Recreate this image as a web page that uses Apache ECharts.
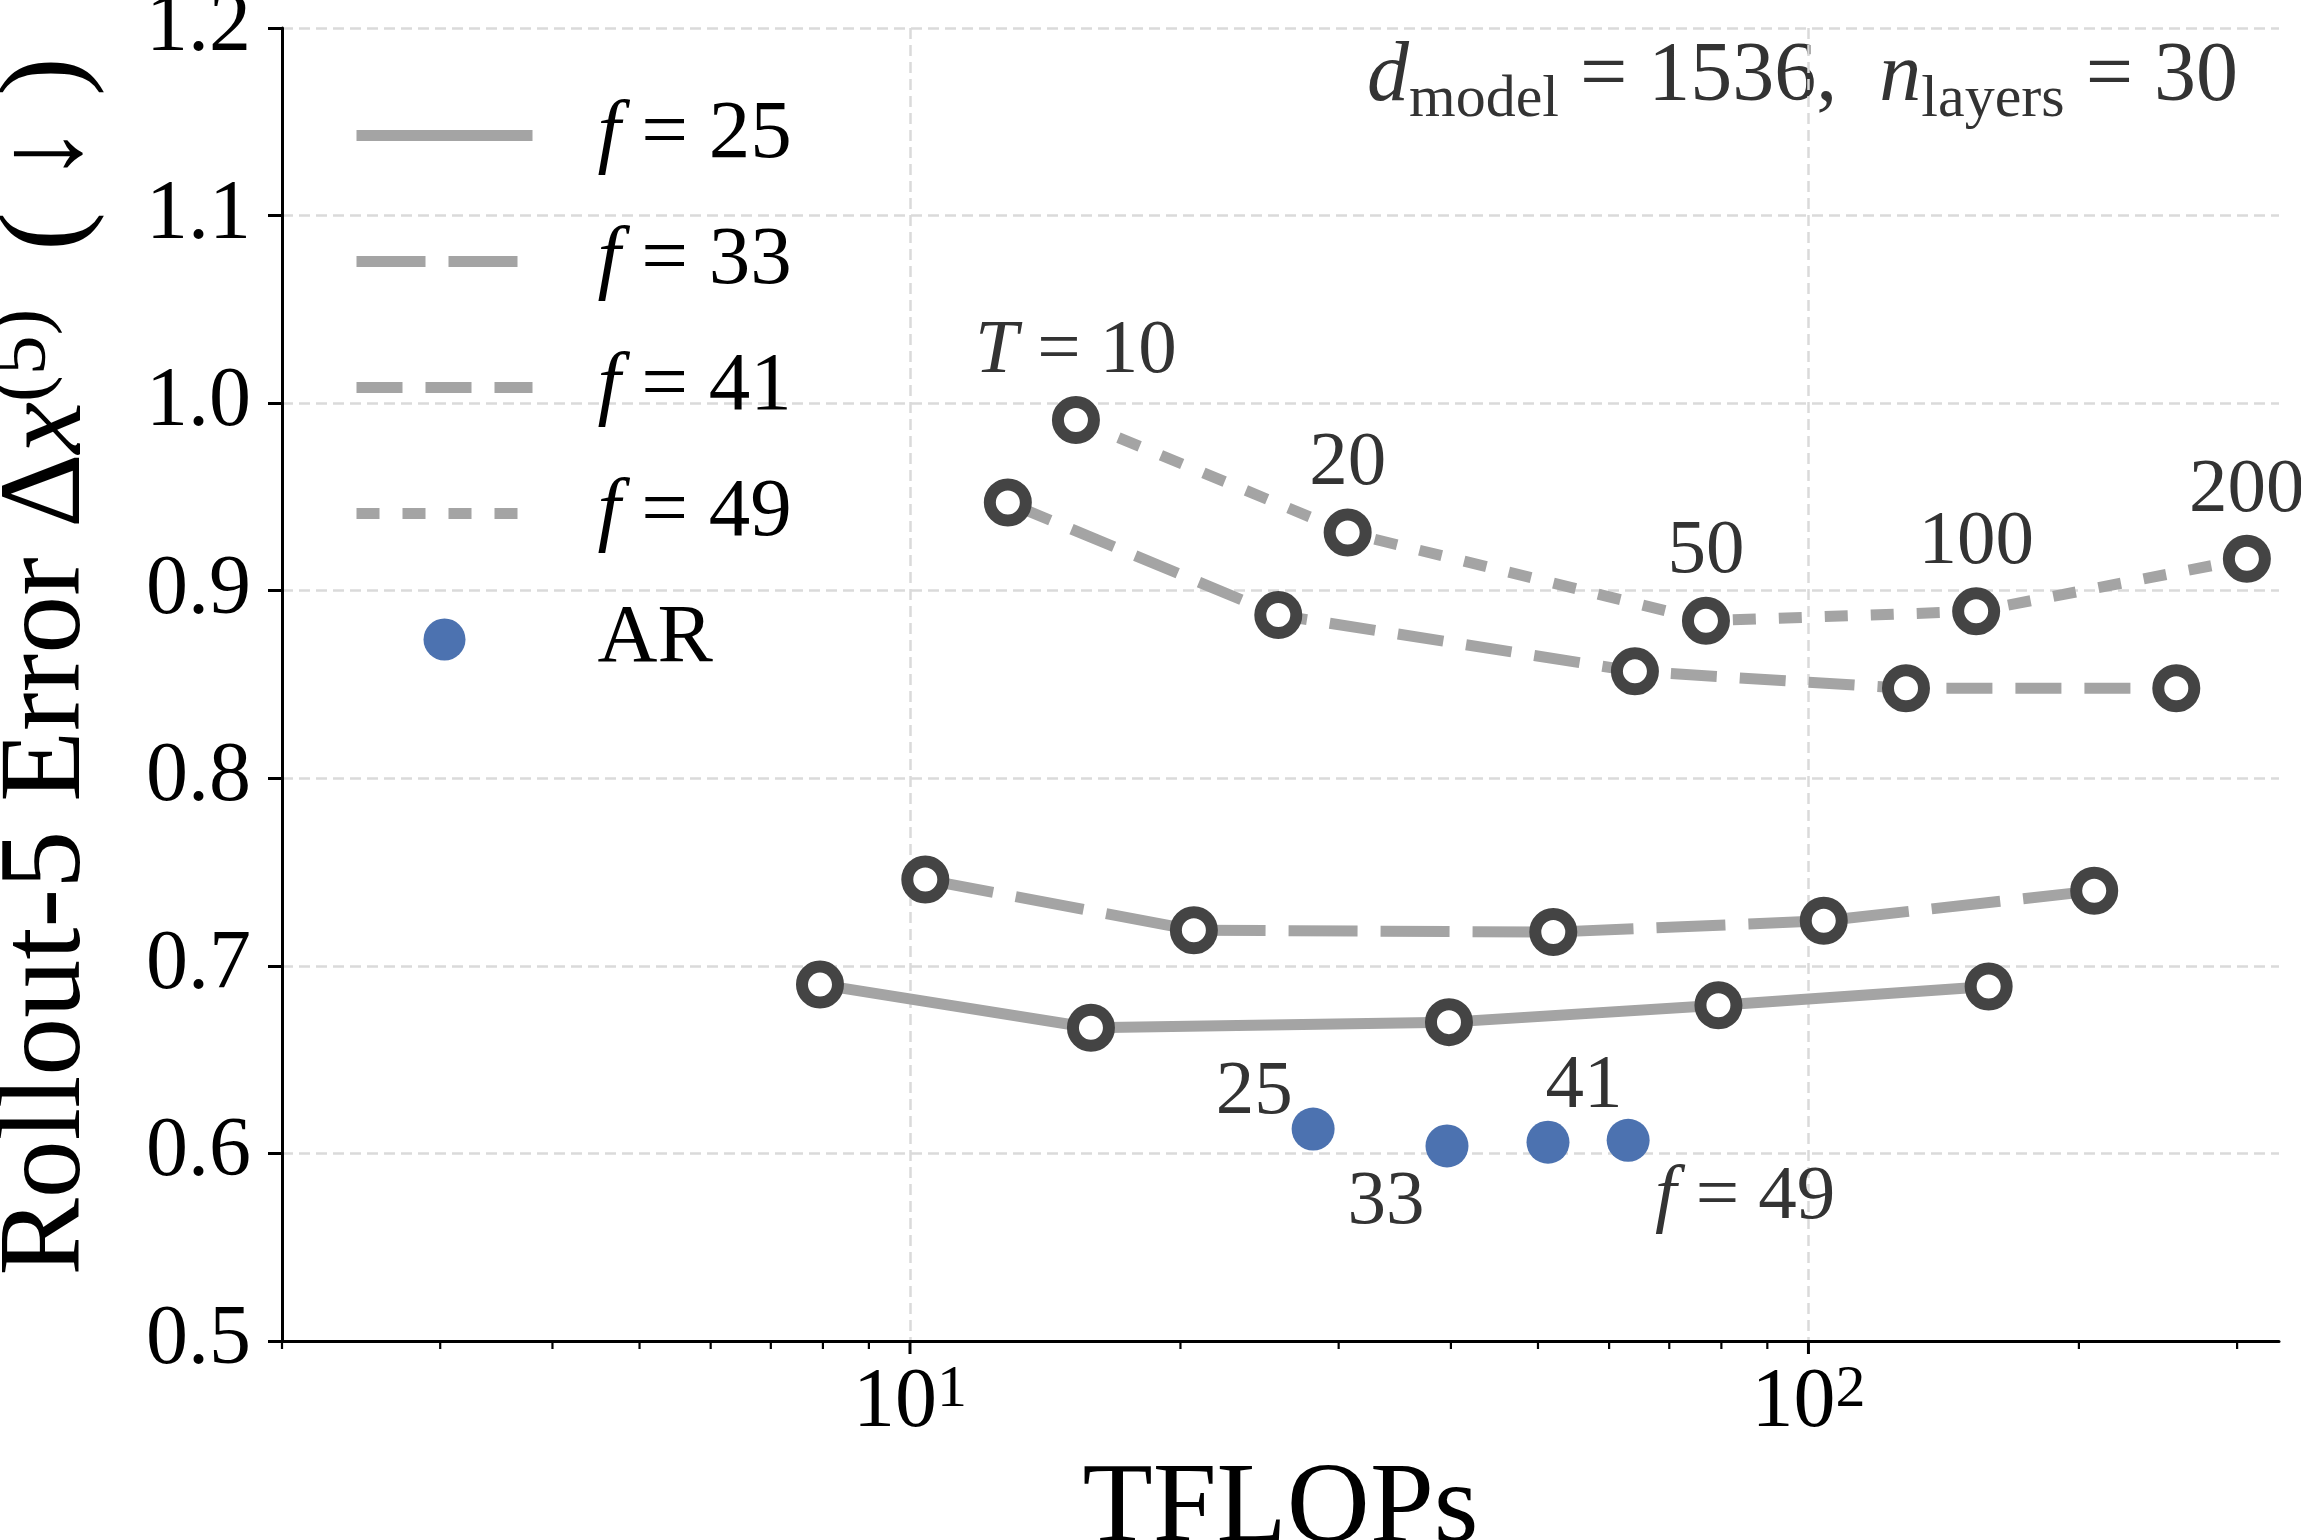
<!DOCTYPE html>
<html>
<head>
<meta charset="utf-8">
<script src="https://cdn.jsdelivr.net/npm/echarts@6/dist/echarts.min.js"></script>
<style>
  html, body { margin: 0; padding: 0; background: #fff; }
  #chart { width: 2301px; height: 1540px; }
</style>
</head>
<body>
<div id="chart"></div>
<script>
// compute (TFLOPs) vs rollout-5 error, one line per f, points are T = 10, 20, 50, 100, 200
const f25Flops = [7.94, 15.9, 39.8, 79.4, 158.7];
const f25Err = [0.690, 0.667, 0.670, 0.679, 0.689];
const f33Flops = [10.4, 20.7, 52.0, 104, 208];
const f33Err = [0.746, 0.719, 0.718, 0.724, 0.740];
const f41Flops = [12.85, 25.7, 64.1, 128.4, 256.7];
const f41Err = [0.947, 0.887, 0.857, 0.848, 0.848];
const f49Flops = [15.3, 30.7, 76.9, 153.7, 307.6];
const f49Err = [0.991, 0.931, 0.884, 0.889, 0.917];
const arFlops = [28.1, 39.6, 51.3, 63.0];
const arErr = [0.613, 0.604, 0.606, 0.607];

const tLabels = ['T = 10', '20', '50', '100', '200'];
const arLabels = ['25', '33', '41', 'f = 49'];
const seriesNames = ['f = 25', 'f = 33', 'f = 41', 'f = 49', 'AR'];
const majorTicks = [10, 100];
const minorTicks = [2, 3, 4, 5, 6, 7, 8, 9, 20, 30, 40, 50, 60, 70, 80, 90, 200, 300];

// label placement for the AR points (px offsets from the dot centre)
const arLabelOffsets = [[-59, -36], [-61, 57], [36, -55], [117, 57]];

const SERIF = '"Liberation Serif", "DejaVu Serif", serif';
const GREY_LINE = '#a4a4a4';
const RING = '#444444';
const TXT = '#333333';

function richStyles(size, color) {
    return {
        n: { fontFamily: SERIF, fontSize: size, color: color },
        i: { fontFamily: SERIF, fontSize: size, color: color, fontStyle: 'italic' }
    };
}

// 'f = 49' -> italic f
function mathText(s) {
    const m = s.match(/^([A-Za-z]) = (.*)$/);
    return m ? '{i|' + m[1] + '}{n| = ' + m[2] + '}' : '{n|' + s + '}';
}

function pairs(xs, ys) {
    return xs.map((x, i) => [x, ys[i]]);
}

function fSeries(name, xs, ys, dash) {
    return {
        name: name,
        type: 'line',
        data: pairs(xs, ys),
        symbol: 'circle',
        symbolSize: 36,
        itemStyle: { color: '#fff', borderColor: RING, borderWidth: 12 },
        lineStyle: { color: GREY_LINE, width: 11, type: dash },
        emphasis: { disabled: true },
        z: 3
    };
}

const chart = echarts.init(document.getElementById('chart'), null, { renderer: 'canvas' });

const f49 = fSeries('f = 49', f49Flops, f49Err, [23, 23]);
f49.label = {
    show: true,
    position: 'top',
    distance: 6,
    color: TXT,
    formatter: p => mathText(tLabels[p.dataIndex]),
    rich: richStyles(77, TXT)
};

const option = {
    backgroundColor: '#fff',
    animation: false,
    grid: { left: 282, right: 22, top: 28, bottom: 199, outerBoundsMode: 'none' },
    legend: {
        orient: 'vertical',
        left: 346,
        top: 89,
        itemWidth: 176,
        itemHeight: 42,
        itemGap: 43,
        selectedMode: false,
        data: seriesNames.map(n => n === 'AR' ? { name: n } : { name: n, itemStyle: { opacity: 0 } }),
        lineStyle: { width: 11 },
        formatter: name => '{sp|}' + mathText(name),
        textStyle: {
            color: '#000',
            rich: Object.assign({ sp: { width: 60 } }, richStyles(83, '#000'))
        }
    },
    xAxis: {
        type: 'log',
        logBase: 10,
        min: 2,
        max: 334,
        axisLine: { show: true, onZero: false, lineStyle: { color: '#000', width: 3 } },
        axisTick: { show: false },
        axisLabel: {
            margin: 19,
            showMinLabel: false,
            showMaxLabel: false,
            formatter: v => '{b|10}{s|' + Math.round(Math.log10(v)) + '}',
            rich: {
                b: { fontFamily: SERIF, fontSize: 84, color: '#000', lineHeight: 88, verticalAlign: 'middle' },
                s: { fontFamily: SERIF, fontSize: 60, color: '#000', lineHeight: 60, verticalAlign: 'top' }
            }
        },
        splitLine: {
            show: true,
            showMinLine: false,
            showMaxLine: false,
            lineStyle: { color: '#dadada', width: 2.5, type: [11, 6] }
        },
        name: 'TFLOPs',
        nameLocation: 'middle',
        nameGap: 112,
        nameTextStyle: { fontFamily: SERIF, fontSize: 115, color: '#000' }
    },
    yAxis: {
        type: 'value',
        min: 0.5,
        max: 1.2,
        interval: 0.1,
        axisLine: { show: true, onZero: false, lineStyle: { color: '#000', width: 3 } },
        axisTick: { show: true, length: 14, lineStyle: { color: '#000', width: 3 } },
        axisLabel: {
            margin: 31,
            fontFamily: SERIF,
            fontSize: 84,
            color: '#000',
            formatter: v => v.toFixed(1)
        },
        splitLine: { show: true, lineStyle: { color: '#dadada', width: 2.5, type: [11, 6] } },
        name: '{sp|}{n|Rollout-5 Error Δ}{i|x}{s|(5)}{n|  ( ↓ )}',
        nameLocation: 'middle',
        nameRotate: 90,
        nameGap: 168,
        nameTextStyle: {
            rich: {
                sp: { width: 36, lineHeight: 130 },
                n: { fontFamily: SERIF, fontSize: 116, color: '#000', lineHeight: 130, verticalAlign: 'middle' },
                i: { fontFamily: SERIF, fontSize: 116, color: '#000', fontStyle: 'italic', lineHeight: 130, verticalAlign: 'middle' },
                s: { fontFamily: SERIF, fontSize: 80, color: '#000', lineHeight: 80, verticalAlign: 'top' }
            }
        }
    },
    graphic: [{
        type: 'text',
        right: 63,
        top: 36,
        style: {
            text: '{i|d}{s|model}{n| = 1536,  }{i|n}{s|layers}{n| = 30}',
            rich: {
                n: { fontFamily: SERIF, fontSize: 84, fill: TXT, lineHeight: 104, verticalAlign: 'middle' },
                i: { fontFamily: SERIF, fontSize: 84, fill: TXT, fontStyle: 'italic', lineHeight: 104, verticalAlign: 'middle' },
                s: { fontFamily: SERIF, fontSize: 60, fill: TXT, lineHeight: 68, verticalAlign: 'bottom' }
            }
        }
    }],
    series: [
        fSeries('f = 25', f25Flops, f25Err, 'solid'),
        fSeries('f = 33', f33Flops, f33Err, [69, 23]),
        fSeries('f = 41', f41Flops, f41Err, [46, 23]),
        f49,
        {
            name: 'AR',
            type: 'scatter',
            data: arFlops.map((x, i) => ({
                value: [x, arErr[i]],
                label: {
                    show: true,
                    position: 'inside',
                    offset: arLabelOffsets[i],
                    color: TXT,
                    textBorderWidth: 0,
                    formatter: () => mathText(arLabels[i]),
                    rich: richStyles(77, TXT)
                }
            })),
            symbol: 'circle',
            symbolSize: 43,
            itemStyle: { color: '#4c72b0', opacity: 1 },
            emphasis: { disabled: true },
            z: 4
        },
        {
            name: 'majorTicks',
            type: 'scatter',
            silent: true,
            clip: false,
            data: majorTicks.map(v => [v, 0.5]),
            symbol: 'rect',
            symbolSize: [3, 13],
            symbolOffset: [0, 6.5],
            itemStyle: { color: '#000', opacity: 1 },
            z: 1
        },
        {
            name: 'minorTicks',
            type: 'scatter',
            silent: true,
            clip: false,
            data: minorTicks.map(v => [v, 0.5]),
            symbol: 'rect',
            symbolSize: [2.2, 8],
            symbolOffset: [0, 4],
            itemStyle: { color: '#000', opacity: 1 },
            z: 1
        }
    ]
};

chart.setOption(option);
window.addEventListener('resize', () => chart.resize());
</script>
</body>
</html>
